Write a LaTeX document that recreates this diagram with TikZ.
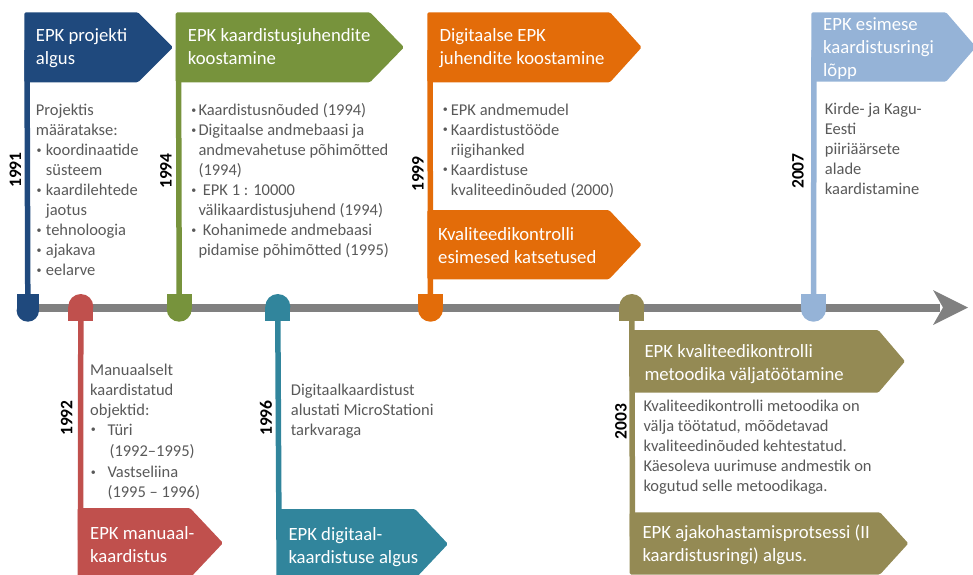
\documentclass[tikz,border=0pt]{standalone}
\usepackage{fontspec}
\setmainfont{Carlito}
\definecolor{epkblue}{HTML}{1F497D}
\definecolor{epkgreen}{HTML}{77933C}
\definecolor{epkorange}{HTML}{E36C09}
\definecolor{epksky}{HTML}{95B3D7}
\definecolor{epkred}{HTML}{C0504D}
\definecolor{epkteal}{HTML}{31859C}
\definecolor{epkolive}{HTML}{948A54}
\definecolor{axisgray}{HTML}{808080}
\definecolor{bodygray}{HTML}{595959}

% strut fixing the height of the first text line
\newcommand\fls{\rule{0pt}{0.8em}}
% small bullet in a box of given width
\newcommand\bul[1]{\makebox[#1][l]{\hspace*{0.6pt}\raisebox{0.16em}{\fontsize{10}{10}\selectfont\textbullet}}}
% pennant flag: colour, left, top, bottom, end of straight part, tip
\newcommand\tlflag[6]{%
  \fill[#1, rounded corners=1.5pt] (#2,#3) -- (#5,#3) -- (#6,{(#3+#4)/2}) -- (#5,#4) -- (#2,#4) -- cycle;}
% pin with flat top and round bottom: name, colour, centre x, radius
\newcommand\pinup[4]{%
  \fill[#2] (#3-#4,294) rectangle (#3+#4,321.7-#4);
  \fill[#2] (#3,321.7-#4) circle[radius=#4];
  \coordinate (#1) at (#3,300);}
% pin with round top and flat bottom: name, colour, centre x, radius
\newcommand\pindown[4]{%
  \fill[#2] (#3-#4,294+#4) rectangle (#3+#4,321);
  \fill[#2] (#3,294+#4) circle[radius=#4];
  \coordinate (#1) at (#3,316);}

\tikzset{
  title/.style={anchor=north west, inner sep=0pt, align=left, text=white,
    font=\fontsize{18.7}{23}\selectfont},
  body/.style={anchor=north west, inner sep=0pt, align=left, text=bodygray,
    font=\fontsize{16.5}{20}\selectfont},
  year/.style={rotate=90, inner sep=0pt, text=black,
    font=\fontsize{17.5}{20}\selectfont\bfseries},
  stem/.style={line width=5.5pt}
}

\begin{document}
\begin{tikzpicture}[x=1pt,y=-1pt]
\useasboundingbox (0,0) rectangle (973,574);
\clip (0,0) rectangle (973,574);

% time axis with arrow head
\coordinate (axisL) at (27,307.5);
\coordinate (axisR) at (940,307.5);
\draw[axisgray, line width=8pt] (axisL) -- (axisR);
\fill[axisgray] (933,290) -- (968,307.5) -- (933,325) -- (943,307.5) -- cycle;

% stems
\coordinate (f91) at (27,50);    \coordinate (f94) at (178.5,50);
\coordinate (f99) at (430,50);   \coordinate (f07) at (814,50);
\coordinate (f92) at (80.5,540); \coordinate (f96) at (279,540);
\coordinate (f03) at (632.5,540);
\pinup{m91}{epkblue}{27.8}{11.2}
\pinup{m94}{epkgreen}{179.2}{12.5}
\pinup{m99}{epkorange}{430.5}{12.5}
\pinup{m07}{epksky}{813.5}{12.5}
\pindown{m92}{epkred}{80.8}{12.5}
\pindown{m96}{epkteal}{277.8}{12.5}
\pindown{m03}{epkolive}{631.8}{12.5}
\draw[stem, epkblue] (f91) -- (m91);
\draw[stem, epkgreen] (f94) -- (m94);
\draw[stem, epkorange] (f99) -- (m99);
\draw[stem, epksky] (f07) -- (m07);
\draw[stem, epkred] (m92) -- (f92);
\draw[stem, epkteal] (m96) -- (f96);
\draw[stem, epkolive] (m03) -- (f03);

% flags
\tlflag{epkblue}{24.3}{12.3}{82.3}{138}{173}
\tlflag{epkgreen}{175.7}{12.3}{82.3}{370}{404}
\tlflag{epkorange}{427.3}{12.3}{82.3}{610}{641.7}
\tlflag{epkorange}{427.3}{210}{279.3}{609}{641.7}
\tlflag{epksky}{811.3}{12.3}{81.7}{946}{976}
\tlflag{epkred}{77.7}{508}{578}{190}{223}
\tlflag{epkteal}{276.3}{509}{579}{415}{448}
\tlflag{epkolive}{629.7}{330}{392.7}{878.3}{905}
\tlflag{epkolive}{629.7}{512.3}{574.5}{880}{908.3}

% flag titles
\node[title] (t91) at (35.7,26.6) {\fls EPK projekti\\algus};
\node[title] (t94) at (187.7,26.6) {\fls EPK kaardistusjuhendite\\koostamine};
\node[title] (t99) at (439.3,26.6) {\fls Digitaalse EPK\\juhendite koostamine};
\node[title] (t99b) at (438,224.9) {\fls Kvaliteedikontrolli\\esimesed katsetused};
\node[title] (t07) at (823,15.6) {\fls EPK esimese\\kaardistusringi\\lõpp};
\node[title] (t92) at (90,523.9) {\fls EPK manuaal-\\kaardistus};
\node[title] (t96) at (288.3,524.9) {\fls EPK digitaal-\\kaardistuse algus};
\node[title] (t03) at (644.3,342.3) {\fls EPK kvaliteedikontrolli\\metoodika väljatöötamine};
\node[title] (t03b) at (642.3,523.3) {\fls EPK ajakohastamisprotsessi (II\\kaardistusringi) algus.};

% descriptions
\node[body] (b91) at (35.7,102.5) {\fls Projektis\\määratakse:\\
  \bul{10pt}koordinaatide\\\hspace*{10pt}süsteem\\
  \bul{10pt}kaardilehtede\\\hspace*{10pt}jaotus\\
  \bul{10pt}tehnoloogia\\\bul{10pt}ajakava\\\bul{10pt}eelarve};
\node[body] (b94) at (190.5,102.5) {\fls\bul{7.8pt}Kaardistusnõuded (1994)\\
  \bul{7.8pt}Digitaalse andmebaasi ja\\\hspace*{7.8pt}andmevahetuse põhimõtted\\\hspace*{7.8pt}(1994)\\
  \bul{12.2pt}EPK 1 : 10000\\\hspace*{7.8pt}välikaardistusjuhend (1994)\\
  \bul{12.2pt}Kohanimede andmebaasi\\\hspace*{7.8pt}pidamise põhimõtted (1995)};
\node[body] (b99) at (442,101.8) {\fls\bul{8.7pt}EPK andmemudel\\
  \bul{8.7pt}Kaardistustööde\\\hspace*{8.7pt}riigihanked\\
  \bul{8.7pt}Kaardistuse\\\hspace*{8.7pt}kvaliteedinõuded (2000)};
\node[body] (b07) at (824.7,101.1) {\fls Kirde- ja Kagu-\\Eesti\\piiriäärsete\\alade\\kaardistamine};
\node[body] (b92) at (90,361.8) {\fls Manuaalselt\\kaardistatud\\objektid:\\
  \bul{17.3pt}Türi\\[1.7pt]\hspace*{19.3pt}(1992--1995)\\[1pt]
  \bul{17.3pt}Vastseliina\\\hspace*{17.3pt}(1995 -- 1996)};
\node[body] (b96) at (290.7,381.8) {\fls Digitaalkaardistust\\alustati MicroStationi\\tarkvaraga};
\node[body] (b03) at (643.3,397.8) {\fls Kvaliteedikontrolli metoodika on\\välja töötatud, mõõdetavad\\
  kvaliteedinõuded kehtestatud.\\Käesoleva uurimuse andmestik on\\kogutud selle metoodikaga.};

% years
\node[year] (y91) at (15.5,170) {1991};
\node[year] (y94) at (166,171) {1994};
\node[year] (y99) at (418,174) {1999};
\node[year] (y07) at (798,171) {2007};
\node[year] (y92) at (66.7,418) {1992};
\node[year] (y96) at (266,418) {1996};
\node[year] (y03) at (621,421.7) {2003};
\end{tikzpicture}
\end{document}
